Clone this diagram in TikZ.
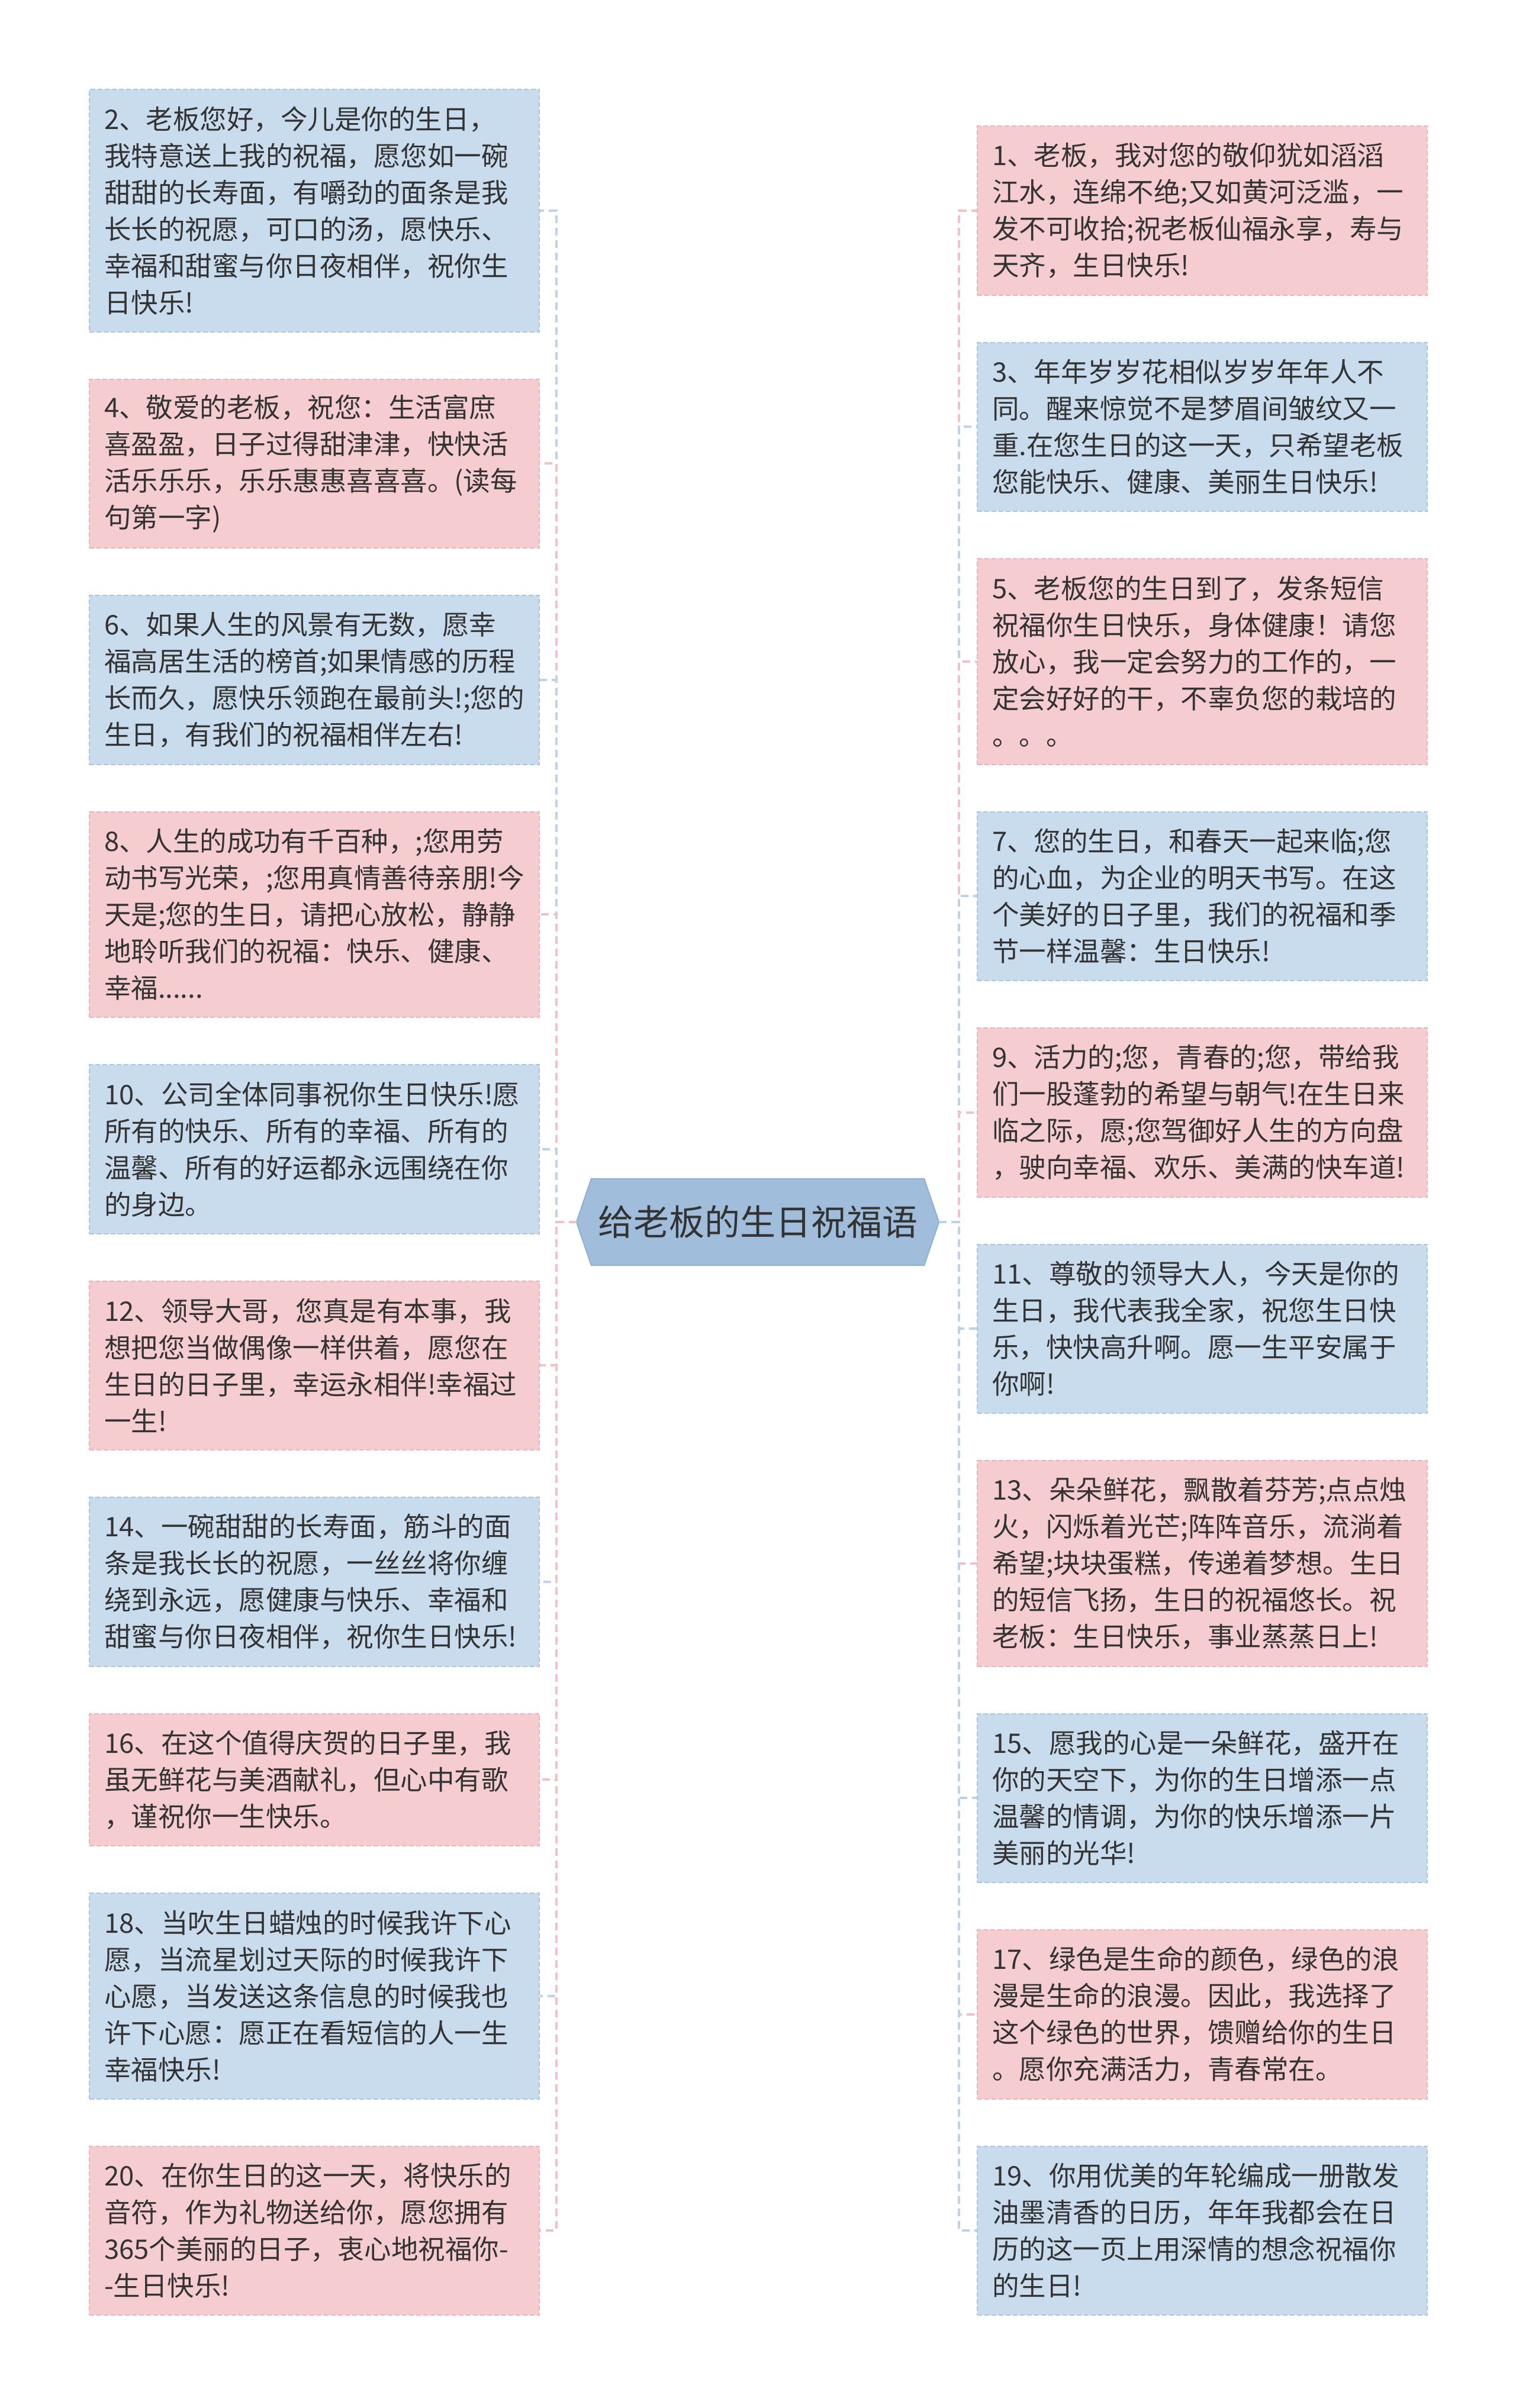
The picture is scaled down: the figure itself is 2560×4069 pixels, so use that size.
\documentclass[tikz,border=0pt]{standalone}
\usepackage{fontspec}
\usetikzlibrary{backgrounds}
\newfontfamily\cjk{Noto Sans CJK SC}
\definecolor{pinkfill}{HTML}{F5CDD0}
\definecolor{bluefill}{HTML}{C9DCED}
\definecolor{pinkedge}{HTML}{EDB3B9}
\definecolor{blueedge}{HTML}{A9C5E0}
\definecolor{pinkline}{HTML}{F2C0C6}
\definecolor{blueline}{HTML}{BCD2E8}
\definecolor{rootfill}{HTML}{A0BEDB}
\definecolor{rootedge}{HTML}{8EB0D4}
\definecolor{txt}{HTML}{333333}
\tikzset{
  box/.style={anchor=north west, inner xsep=25pt, inner ysep=0pt, text width=710pt,
    align=left, font=\cjk\fontsize{45.5}{62}\selectfont, text=txt,
    line width=2pt, dash pattern=on 8pt off 4pt},
  pinkbox/.style={box, fill=pinkfill, draw=pinkedge},
  bluebox/.style={box, fill=bluefill, draw=blueedge},
  conn/.style={line width=4pt, dash pattern=on 13pt off 8pt},
  pinkconn/.style={conn, draw=pinkline},
  blueconn/.style={conn, draw=blueline},
}
\begin{document}
\begin{tikzpicture}[x=1pt,y=-1pt]
\useasboundingbox (0,0) rectangle (2560,4069);

% central topic
\node[minimum width=612pt, minimum height=146pt, inner sep=0pt,
      font=\cjk\fontsize{60}{72}\selectfont, text=txt] (root) at (1280,2065) {给老板的生日祝福语};
\begin{pgfonlayer}{background}
\fill[white] (0,0) rectangle (2560,4069);
\filldraw[fill=rootfill, draw=rootedge, line width=2pt]
  (root.west) -- ([xshift=25pt]root.north west) -- ([xshift=-25pt]root.north east)
  -- (root.east) -- ([xshift=-25pt]root.south east) -- ([xshift=25pt]root.south west) -- cycle;
\end{pgfonlayer}
\coordinate (ltrunk) at (940,2065);
\coordinate (rtrunk) at (1620,2065);

% left column
\node[bluebox, minimum height=409.5pt] (b2) at (150,150) {2、老板您好，今儿是你的生日，\\我特意送上我的祝福，愿您如一碗\\甜甜的长寿面，有嚼劲的面条是我\\长长的祝愿，可口的汤，愿快乐、\\幸福和甜蜜与你日夜相伴，祝你生\\日快乐!};
\node[pinkbox, minimum height=285.5pt] (b4) at (150,639.5) {4、敬爱的老板，祝您：生活富庶\\喜盈盈，日子过得甜津津，快快活\\活乐乐乐，乐乐惠惠喜喜喜。(读每\\句第一字)};
\node[bluebox, minimum height=285.5pt] (b6) at (150,1005) {6、如果人生的风景有无数，愿幸\\福高居生活的榜首;如果情感的历程\\长而久，愿快乐领跑在最前头!;您的\\生日，有我们的祝福相伴左右!};
\node[pinkbox, minimum height=347.5pt] (b8) at (150,1370.5) {8、人生的成功有千百种，;您用劳\\动书写光荣，;您用真情善待亲朋!今\\天是;您的生日，请把心放松，静静\\地聆听我们的祝福：快乐、健康、\\幸福......};
\node[bluebox, minimum height=285.5pt] (b10) at (150,1798) {10、公司全体同事祝你生日快乐!愿\\所有的快乐、所有的幸福、所有的\\温馨、所有的好运都永远围绕在你\\的身边。};
\node[pinkbox, minimum height=285.5pt] (b12) at (150,2163.5) {12、领导大哥，您真是有本事，我\\想把您当做偶像一样供着，愿您在\\生日的日子里，幸运永相伴!幸福过\\一生!};
\node[bluebox, minimum height=285.5pt] (b14) at (150,2529) {14、一碗甜甜的长寿面，筋斗的面\\条是我长长的祝愿，一丝丝将你缠\\绕到永远，愿健康与快乐、幸福和\\甜蜜与你日夜相伴，祝你生日快乐!};
\node[pinkbox, minimum height=223.5pt] (b16) at (150,2894.5) {16、在这个值得庆贺的日子里，我\\虽无鲜花与美酒献礼，但心中有歌\\，谨祝你一生快乐。};
\node[bluebox, minimum height=347.5pt] (b18) at (150,3198) {18、当吹生日蜡烛的时候我许下心\\愿，当流星划过天际的时候我许下\\心愿，当发送这条信息的时候我也\\许下心愿：愿正在看短信的人一生\\幸福快乐!};
\node[pinkbox, minimum height=285.5pt] (b20) at (150,3625.5) {20、在你生日的这一天，将快乐的\\音符，作为礼物送给你，愿您拥有\\365个美丽的日子，衷心地祝福你-\\-生日快乐!};

% right column
\node[pinkbox, minimum height=285.5pt] (b1) at (1650,212) {1、老板，我对您的敬仰犹如滔滔\\江水，连绵不绝;又如黄河泛滥，一\\发不可收拾;祝老板仙福永享，寿与\\天齐，生日快乐!};
\node[bluebox, minimum height=285.5pt] (b3) at (1650,577.5) {3、年年岁岁花相似岁岁年年人不\\同。醒来惊觉不是梦眉间皱纹又一\\重.在您生日的这一天，只希望老板\\您能快乐、健康、美丽生日快乐!};
\node[pinkbox, minimum height=347.5pt] (b5) at (1650,943) {5、老板您的生日到了，发条短信\\祝福你生日快乐，身体健康！请您\\放心，我一定会努力的工作的，一\\定会好好的干，不辜负您的栽培的\\。。。};
\node[bluebox, minimum height=285.5pt] (b7) at (1650,1370.5) {7、您的生日，和春天一起来临;您\\的心血，为企业的明天书写。在这\\个美好的日子里，我们的祝福和季\\节一样温馨：生日快乐!};
\node[pinkbox, minimum height=285.5pt] (b9) at (1650,1736) {9、活力的;您，青春的;您，带给我\\们一股蓬勃的希望与朝气!在生日来\\临之际，愿;您驾御好人生的方向盘\\，驶向幸福、欢乐、美满的快车道!};
\node[bluebox, minimum height=285.5pt] (b11) at (1650,2101.5) {11、尊敬的领导大人，今天是你的\\生日，我代表我全家，祝您生日快\\乐，快快高升啊。愿一生平安属于\\你啊!};
\node[pinkbox, minimum height=347.5pt] (b13) at (1650,2467) {13、朵朵鲜花，飘散着芬芳;点点烛\\火，闪烁着光芒;阵阵音乐，流淌着\\希望;块块蛋糕，传递着梦想。生日\\的短信飞扬，生日的祝福悠长。祝\\老板：生日快乐，事业蒸蒸日上!};
\node[bluebox, minimum height=285.5pt] (b15) at (1650,2894.5) {15、愿我的心是一朵鲜花，盛开在\\你的天空下，为你的生日增添一点\\温馨的情调，为你的快乐增添一片\\美丽的光华!};
\node[pinkbox, minimum height=285.5pt] (b17) at (1650,3260) {17、绿色是生命的颜色，绿色的浪\\漫是生命的浪漫。因此，我选择了\\这个绿色的世界，馈赠给你的生日\\。愿你充满活力，青春常在。};
\node[bluebox, minimum height=285.5pt] (b19) at (1650,3625.5) {19、你用优美的年轮编成一册散发\\油墨清香的日历，年年我都会在日\\历的这一页上用深情的想念祝福你\\的生日!};

% connectors (left)
\draw[blueconn] (root.west) -- (ltrunk) |- (b2.east);
\draw[pinkconn] (root.west) -- (ltrunk) |- (b4.east);
\draw[blueconn] (root.west) -- (ltrunk) |- (b6.east);
\draw[pinkconn] (root.west) -- (ltrunk) |- (b8.east);
\draw[blueconn] (root.west) -- (ltrunk) |- (b10.east);
\draw[pinkconn] (root.west) -- (ltrunk) |- (b12.east);
\draw[blueconn] (root.west) -- (ltrunk) |- (b14.east);
\draw[pinkconn] (root.west) -- (ltrunk) |- (b16.east);
\draw[blueconn] (root.west) -- (ltrunk) |- (b18.east);
\draw[pinkconn] (root.west) -- (ltrunk) |- (b20.east);
% connectors (right)
\draw[pinkconn] (root.east) -- (rtrunk) |- (b1.west);
\draw[blueconn] (root.east) -- (rtrunk) |- (b3.west);
\draw[pinkconn] (root.east) -- (rtrunk) |- (b5.west);
\draw[blueconn] (root.east) -- (rtrunk) |- (b7.west);
\draw[pinkconn] (root.east) -- (rtrunk) |- (b9.west);
\draw[blueconn] (root.east) -- (rtrunk) |- (b11.west);
\draw[pinkconn] (root.east) -- (rtrunk) |- (b13.west);
\draw[blueconn] (root.east) -- (rtrunk) |- (b15.west);
\draw[pinkconn] (root.east) -- (rtrunk) |- (b17.west);
\draw[blueconn] (root.east) -- (rtrunk) |- (b19.west);
\end{tikzpicture}
\end{document}
